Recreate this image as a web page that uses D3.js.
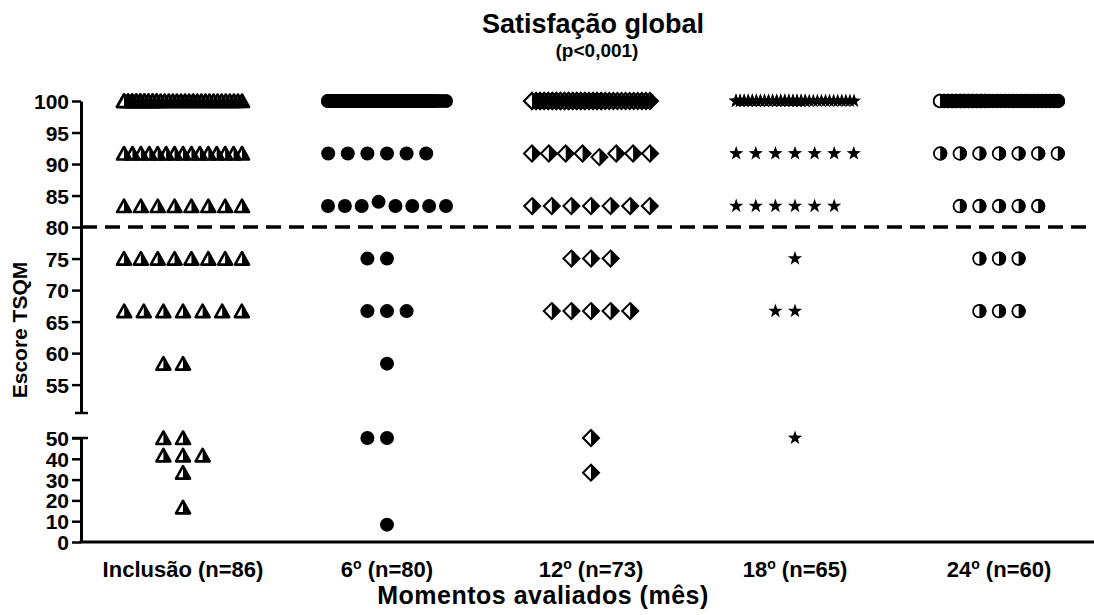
<!DOCTYPE html>
<html>
<head>
<meta charset="utf-8">
<script src="https://cdn.jsdelivr.net/npm/d3@7"></script>
<style>
  body { margin: 0; background: #fff; }
  text { font-family: "Liberation Sans", Arial, sans-serif; font-weight: bold; fill: #000; }
</style>
</head>
<body>
<script>
    //Width and height
    var w = 1094;
    var h = 615;

    //Data: column names, n, and [score, count]
    var moments = ["Inclusão", "6", "12", "18", "24"];
    var nValues = [86, 80, 73, 65, 60];
    var inclusao = [[100, 39], [91.67, 15], [83.33, 8], [75, 8], [66.67, 7], [58.33, 2], [50, 2], [41.67, 3], [33.33, 1], [16.67, 1]];
    var mes6 = [[100, 57], [91.67, 6], [83.33, 3], [84, 1], [83.33, 4], [75, 2], [66.67, 3], [58.33, 1], [50, 2], [8.33, 1]];
    var mes12 = [[100, 48], [91.67, 4], [91.1, 1], [91.67, 3], [83.33, 7], [75, 3], [66.67, 5], [50, 1], [33.33, 1]];
    var mes18 = [[100, 48], [91.67, 7], [83.33, 6], [75, 1], [66.67, 2], [50, 1]];
    var mes24 = [[100, 42], [91.67, 7], [83.33, 5], [75, 3], [66.67, 3]];
    var series = [inclusao, mes6, mes12, mes18, mes24];
    var symbols = ["halfTriangle", "circle", "halfDiamond", "star", "halfCircle"];

    //Tick labels
    var upperTicks = [55, 60, 65, 70, 75, 80, 85, 90, 95, 100];
    var lowerTicks = [0, 10, 20, 30, 40, 50];
    var cutoff = 80;

    //Create SVG element
    var svg = d3.select("body")
                .append("svg")
                .attr("width", w)
                .attr("height", h);

    //scales (y axis is broken in two segments)
    var x = d3.scaleBand().domain(moments).range([81, 1101]).padding(0);
    var yUp = d3.scaleLinear().domain([50.5, 100]).range([413, 101]);
    var yLow = d3.scaleLinear().domain([0, 50]).range([542, 438]);
    function yPos(v) { return v > 50.4 ? yUp(v) : yLow(v); }

    //title
    svg.append("text").attr("x", 593).attr("y", 33).attr("text-anchor", "middle")
       .style("font-size", "27px").text("Satisfação global");
    svg.append("text").attr("x", 597).attr("y", 57).attr("text-anchor", "middle")
       .style("font-size", "19px").text("(p<0,001)");

    //y axes
    var axUp = svg.append("g").attr("transform", "translate(81,0)")
        .call(d3.axisLeft(yUp).tickValues(upperTicks).tickSize(9).tickSizeOuter(0).tickPadding(3));
    var axLow = svg.append("g").attr("transform", "translate(81,0)")
        .call(d3.axisLeft(yLow).tickValues(lowerTicks).tickSize(9).tickSizeOuter(0).tickPadding(3));
    [axUp, axLow].forEach(function(a) {
        a.select(".domain").attr("stroke-width", 3);
        a.selectAll(".tick line").attr("stroke-width", 2.5);
        a.selectAll(".tick text").style("font-size", "21px").attr("dy", "0.36em")
         .style("font-family", "'Liberation Sans', Arial, sans-serif").style("font-weight", "bold");
    });
    //break caps
    svg.append("line").attr("x1", 75).attr("x2", 88).attr("y1", yUp(50.5)).attr("y2", yUp(50.5))
       .attr("stroke", "#000").attr("stroke-width", 2.5);
    svg.append("line").attr("x1", 72).attr("x2", 88).attr("y1", yLow(50)).attr("y2", yLow(50))
       .attr("stroke", "#000").attr("stroke-width", 2.5);

    //x axis
    svg.append("line").attr("x1", 79.5).attr("x2", w).attr("y1", yLow(0)).attr("y2", yLow(0))
       .attr("stroke", "#000").attr("stroke-width", 3);

    //x labels
    moments.forEach(function(m, i) {
        var t = svg.append("text").attr("x", x(m) + x.bandwidth() / 2).attr("y", 577)
                   .attr("text-anchor", "middle").style("font-size", "22px");
        t.append("tspan").text(m);
        if (i > 0) t.append("tspan").attr("dy", -8).style("font-size", "14px").text("o");
        t.append("tspan").attr("dy", i > 0 ? 8 : 0).text(" (n=" + nValues[i] + ")");
    });

    //axis titles
    svg.append("text").attr("x", 543).attr("y", 604).attr("text-anchor", "middle")
       .style("font-size", "25px").style("letter-spacing", "0.5px").text("Momentos avaliados (mês)");
    svg.append("text").attr("transform", "translate(27,330) rotate(-90)").attr("text-anchor", "middle")
       .style("font-size", "21px").text("Escore TSQM");

    //cutoff line
    svg.append("line").attr("x1", 82).attr("x2", w).attr("y1", yUp(cutoff)).attr("y2", yUp(cutoff))
       .attr("stroke", "#000").attr("stroke-width", 3.5).attr("stroke-dasharray", "15,8");

    //spread points of each row like a column scatter
    var slot = 19.6, maxHalf = 59, minGap = 4;
    var points = [];
    series.forEach(function(s, ci) {
        var rows = d3.group(s.flatMap(function(d) { return d3.range(d[1]).map(function() { return d[0]; }); }),
                            function(v) { return Math.round(v * 12 / 100); });
        var cx = x(moments[ci]) + x.bandwidth() / 2;
        rows.forEach(function(vals) {
            var n = vals.length;
            var fits = Math.ceil((n - 1) / 2) * slot <= maxHalf;
            var m = Math.min(n, Math.floor(2 * maxHalf / minGap) + 1);
            var sp = m > 1 ? Math.min(slot, 2 * maxHalf / (m - 1)) : 0;
            vals.forEach(function(v, k) {
                var off;
                if (fits) off = (k % 2 === 1 ? -1 : 1) * Math.ceil(k / 2) * slot;
                else off = ((k % m) - (m - 1) / 2) * sp;
                points.push({ col: ci, v: v, x: cx + off, y: yPos(v) });
            });
        });
    });
    //draw right to left so the overlapping rows show the filled halves
    points.sort(function(a, b) { return b.x - a.x; });

    //marker shapes
    function starPath(ro, ri) {
        var p = [];
        for (var i = 0; i < 10; i++) {
            var a = -Math.PI / 2 + i * Math.PI / 5, r = i % 2 ? ri : ro;
            p.push([r * Math.cos(a), r * Math.sin(a)]);
        }
        return "M" + p.join("L") + "Z";
    }

    var marks = svg.selectAll("g.pt")
        .data(points)
        .enter()
        .append("g")
        .attr("class", "pt")
        .attr("transform", function(d) { return "translate(" + d.x + "," + d.y + ")"; });

    marks.each(function(d) {
        var g = d3.select(this), kind = symbols[d.col];
        if (kind === "circle") {
            g.append("circle").attr("r", 7).attr("fill", "#000");
        } else if (kind === "star") {
            g.append("path").attr("d", starPath(7.5, 3)).attr("fill", "#000");
        } else if (kind === "halfTriangle") {
            g.append("path").attr("d", "M0,-6.5L7,6L-7,6Z").attr("fill", "#fff")
             .attr("stroke", "#000").attr("stroke-width", 2.6).attr("stroke-linejoin", "round");
            g.append("path").attr("d", "M0,-6.5L7,6L0,6Z").attr("fill", "#000");
        } else if (kind === "halfDiamond") {
            g.append("path").attr("d", "M0,-8L8,0L0,8L-8,0Z").attr("fill", "#fff")
             .attr("stroke", "#000").attr("stroke-width", 2);
            g.append("path").attr("d", "M0,-8L8,0L0,8Z").attr("fill", "#000");
        } else {
            g.append("circle").attr("r", 6.3).attr("fill", "#fff").attr("stroke", "#000").attr("stroke-width", 1.8);
            g.append("path").attr("d", "M0,-7A7,7 0 0 1 0,7Z").attr("fill", "#000");
        }
    });
</script>
</body>
</html>
